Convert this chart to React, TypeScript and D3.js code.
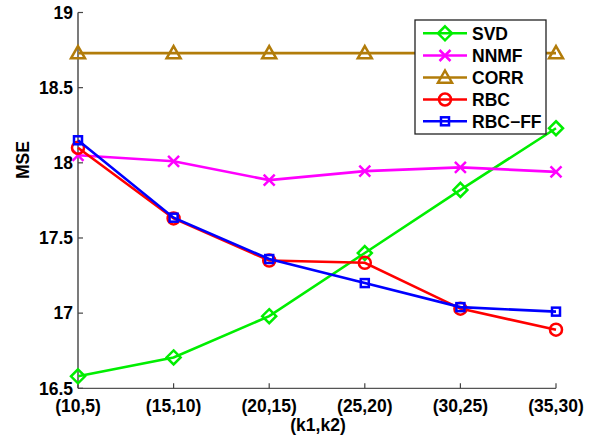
import React from 'react';
import * as d3 from 'd3';

const categories = ['(10,5)', '(15,10)', '(20,15)', '(25,20)', '(30,25)', '(35,30)'];
const yTicks = [16.5, 17, 17.5, 18, 18.5, 19];

const svdValues = [16.58, 16.705, 16.98, 17.4, 17.82, 18.23];
const nnmfValues = [18.05, 18.01, 17.885, 17.945, 17.97, 17.94];
const corrValues = [18.73, 18.73, 18.73, 18.73, 18.73, 18.73];
const rbcValues = [18.1, 17.63, 17.35, 17.335, 17.03, 16.89];
const rbcffValues = [18.15, 17.635, 17.36, 17.2, 17.04, 17.01];

const seriesNames = ['SVD', 'NNMF', 'CORR', 'RBC', 'RBC\u2212FF'];
const seriesColors = ['#00ee00', '#ff00ff', '#b27c0a', '#ff0000', '#0000ff'];
const seriesMarkers = ['diamond', 'cross', 'triangle', 'circle', 'square'];

const W = 595;
const H = 437;
const font = 'Liberation Sans, Arial, Helvetica, sans-serif';
const fs = 17.5;

const Marker = ({ kind, x, y, color }: { kind: string; x: number; y: number; color: string }) => {
  const sw = 2.5;
  if (kind === 'diamond') {
    const r = 7;
    return <path d={`M${x},${y - r}L${x + r},${y}L${x},${y + r}L${x - r},${y}Z`} fill="none" stroke={color} strokeWidth={sw} />;
  }
  if (kind === 'cross') {
    const r = 5.5;
    return <path d={`M${x - r},${y - r}L${x + r},${y + r}M${x - r},${y + r}L${x + r},${y - r}`} fill="none" stroke={color} strokeWidth={sw} />;
  }
  if (kind === 'triangle') {
    const r = 7;
    return <path d={`M${x},${y - r}L${x + r},${y + r * 0.75}L${x - r},${y + r * 0.75}Z`} fill="none" stroke={color} strokeWidth={sw} />;
  }
  if (kind === 'circle') {
    return <circle cx={x} cy={y} r={6} fill="none" stroke={color} strokeWidth={sw} />;
  }
  const r = 4;
  return <rect x={x - r} y={y - r} width={2 * r} height={2 * r} fill="none" stroke={color} strokeWidth={sw} />;
};

export default function App() {
  const x = d3.scalePoint<string>().domain(categories).range([78, 556]);
  const y = d3.scaleLinear().domain([16.5, 19]).range([388.3, 12.5]);

  const allSeries = [svdValues, nnmfValues, corrValues, rbcValues, rbcffValues];
  const line = d3
    .line<number>()
    .x((_, i) => x(categories[i]) as number)
    .y((d) => y(d));

  const legend = { x: 415, y: 20, w: 131, h: 114 };
  const rowY = [33.3, 55.5, 77.5, 99.5, 121.3];

  return (
    <svg width={W} height={H} style={{ position: 'absolute', left: 0, top: 0, background: '#fff' }} fontFamily={font}>
      <rect width={W} height={H} fill="#fff" />
      {/* axes */}
      <line x1={78} x2={78} y1={y(19)} y2={y(16.5)} stroke="#222" strokeWidth={1.2} />
      <line x1={78} x2={556} y1={y(16.5)} y2={y(16.5)} stroke="#555" strokeWidth={1.3} />
      {yTicks.map((t) => (
        <g key={t}>
          <line x1={78} x2={83} y1={y(t)} y2={y(t)} stroke="#444" strokeWidth={1.2} />
          <text x={73} y={y(t)} dy="0.36em" textAnchor="end" fontSize={fs} fontWeight="bold">
            {t}
          </text>
        </g>
      ))}
      {categories.map((c) => (
        <g key={c}>
          <line x1={x(c)} x2={x(c)} y1={y(16.5)} y2={y(16.5) - 5} stroke="#444" strokeWidth={1.2} />
          <text x={x(c)} y={412} textAnchor="middle" fontSize={fs} fontWeight="bold">
            {c}
          </text>
        </g>
      ))}
      <text x={318} y={431} textAnchor="middle" fontSize={fs} fontWeight="bold">
        (k1,k2)
      </text>
      <text transform="translate(29,160) rotate(-90)" textAnchor="middle" fontSize={fs} fontWeight="bold">
        MSE
      </text>
      {/* series */}
      {allSeries.map((vals, si) => (
        <g key={si}>
          <path d={line(vals) || ''} fill="none" stroke={seriesColors[si]} strokeWidth={2.6} />
          {vals.map((v, i) => (
            <Marker key={i} kind={seriesMarkers[si]} x={x(categories[i]) as number} y={y(v)} color={seriesColors[si]} />
          ))}
        </g>
      ))}
      {/* legend */}
      <rect x={legend.x} y={legend.y} width={legend.w} height={legend.h} fill="#fff" stroke="#222" strokeWidth={1.3} />
      {seriesNames.map((n, i) => (
        <g key={n}>
          <line x1={423} x2={467} y1={rowY[i]} y2={rowY[i]} stroke={seriesColors[i]} strokeWidth={2.6} />
          <Marker kind={seriesMarkers[i]} x={445} y={rowY[i]} color={seriesColors[i]} />
          <text x={472} y={rowY[i]} dy="0.36em" fontSize={fs} fontWeight="bold">
            {n}
          </text>
        </g>
      ))}
    </svg>
  );
}
